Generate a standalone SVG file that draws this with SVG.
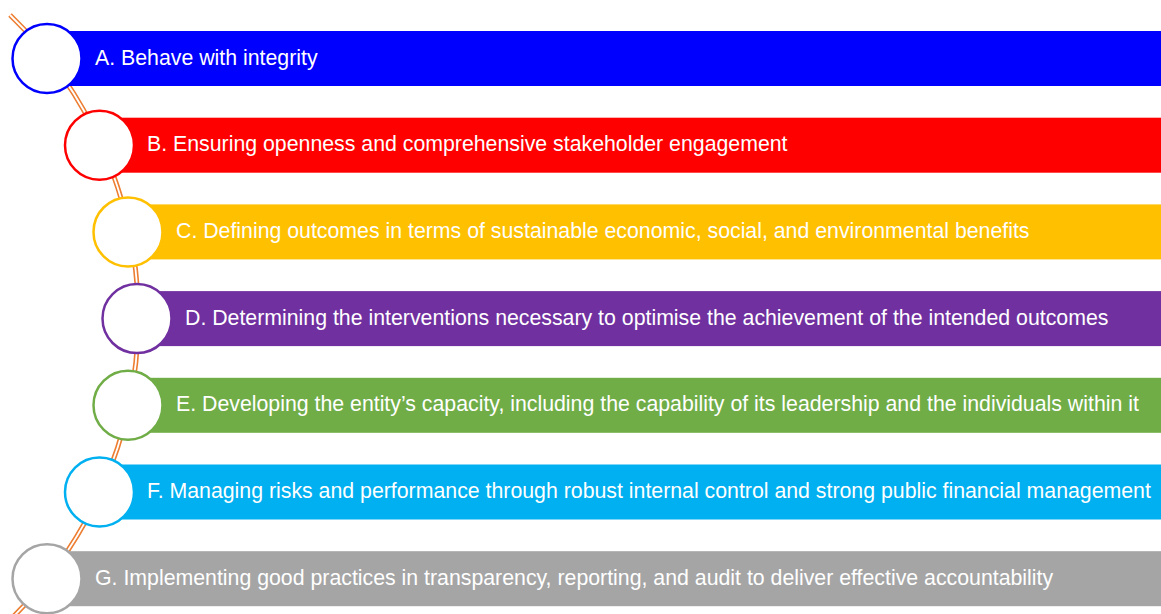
<svg xmlns="http://www.w3.org/2000/svg" width="1161" height="614" viewBox="0 0 1161 614">
<style>
.bar{stroke:none}
.ring{fill:#FFFFFF;stroke-width:2.5}
.lbl{font-family:"Liberation Sans",Arial,sans-serif;font-size:21.3px;fill:#FFFFFF}
</style>
<rect width="1161" height="614" fill="#FFFFFF"/>
<g id="connectors">
<path d="M 10,15 A 420.8 420.8 0 0 1 8.8,621" fill="none" stroke="#ED7D31" stroke-width="5"/>
<path d="M 10,15 A 420.8 420.8 0 0 1 8.8,621" fill="none" stroke="#FFFFFF" stroke-width="1.8"/>
</g>
<g id="nodeA">
<rect class="bar" x="47" y="31" width="1114" height="55" fill="#0000FF"/>
<circle class="ring" cx="47" cy="58.5" r="34.5" stroke="#0000FF"/>
<text class="lbl" x="95" y="64.5">A. Behave with integrity</text>
</g>
<g id="nodeB">
<rect class="bar" x="99.5" y="117.7" width="1061.5" height="55" fill="#FF0000"/>
<circle class="ring" cx="99.5" cy="145.2" r="34.5" stroke="#FF0000"/>
<text class="lbl" x="147" y="151.2">B. Ensuring openness and comprehensive stakeholder engagement</text>
</g>
<g id="nodeC">
<rect class="bar" x="128" y="204.4" width="1033" height="55" fill="#FFC000"/>
<circle class="ring" cx="128" cy="231.9" r="34.5" stroke="#FFC000"/>
<text class="lbl" x="176" y="237.9">C. Defining outcomes in terms of sustainable economic, social, and environmental benefits</text>
</g>
<g id="nodeD">
<rect class="bar" x="137" y="291.1" width="1024" height="55" fill="#7030A0"/>
<circle class="ring" cx="137" cy="318.6" r="34.5" stroke="#7030A0"/>
<text class="lbl" x="185" y="324.6">D. Determining the interventions necessary to optimise the achievement of the intended outcomes</text>
</g>
<g id="nodeE">
<rect class="bar" x="128" y="377.8" width="1033" height="55" fill="#70AD47"/>
<circle class="ring" cx="128" cy="405.3" r="34.5" stroke="#70AD47"/>
<text class="lbl" x="176" y="411.3">E. Developing the entity’s capacity, including the capability of its leadership and the individuals within it</text>
</g>
<g id="nodeF">
<rect class="bar" x="99.5" y="464.5" width="1061.5" height="55" fill="#00B0F0"/>
<circle class="ring" cx="99.5" cy="492" r="34.5" stroke="#00B0F0"/>
<text class="lbl" x="147" y="498">F. Managing risks and performance through robust internal control and strong public financial management</text>
</g>
<g id="nodeG">
<rect class="bar" x="47" y="551.2" width="1114" height="55" fill="#A5A5A5"/>
<circle class="ring" cx="47" cy="578.7" r="34.5" stroke="#A5A5A5"/>
<text class="lbl" x="95" y="584.7">G. Implementing good practices in transparency, reporting, and audit to deliver effective accountability</text>
</g>
</svg>
